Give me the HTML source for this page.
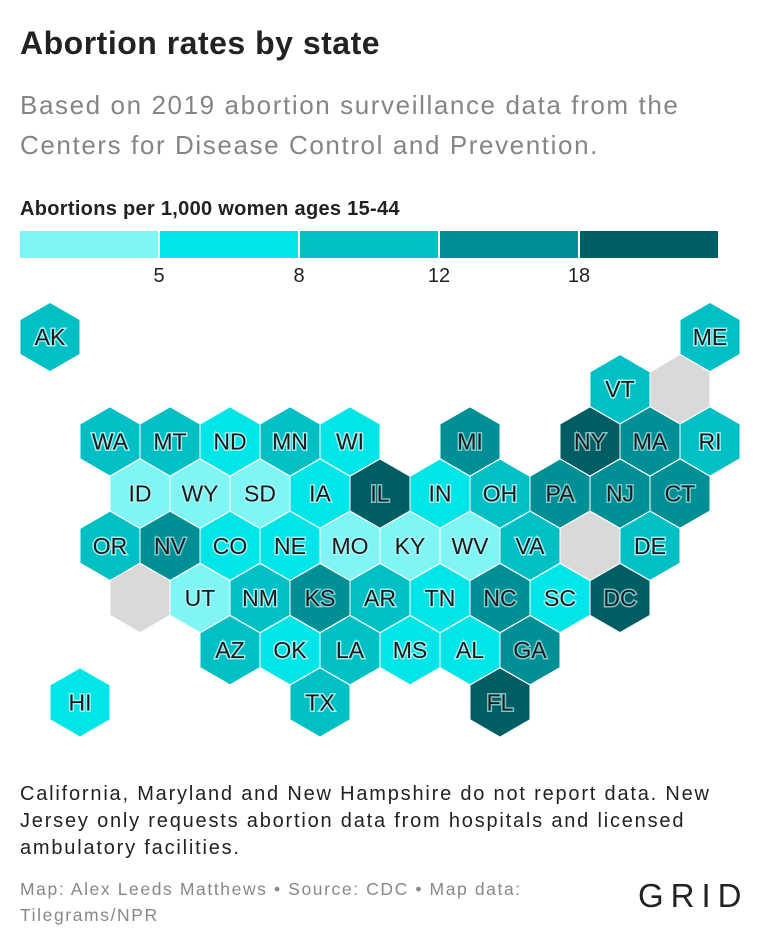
<!DOCTYPE html>
<html><head><meta charset="utf-8"><style>
body{margin:0;background:#fff;font-family:"Liberation Sans",sans-serif;}
#wrap{position:relative;width:760px;height:946px;overflow:hidden;}
.t{position:absolute;left:20px;margin:0;white-space:nowrap;}
</style></head><body>
<div id="wrap">
<h1 class="t" style="top:25px;font-size:32px;font-weight:bold;color:#222;letter-spacing:0.5px;">Abortion rates by state</h1>
<div class="t" style="top:85px;font-size:26px;line-height:40px;color:#858585;letter-spacing:1.6px;">Based on 2019 abortion surveillance data from the<br>Centers for Disease Control and Prevention.</div>
<div class="t" style="top:198px;font-size:20px;font-weight:bold;color:#222;letter-spacing:0.3px;">Abortions per 1,000 women ages 15-44</div>
<svg id="map" width="760" height="760" style="position:absolute;left:0;top:0"></svg>
<div class="t" style="top:781px;font-size:20px;line-height:27px;color:#222;letter-spacing:1.8px;">California, Maryland and New Hampshire do not report data. New<br>Jersey only requests abortion data from hospitals and licensed<br>ambulatory facilities.</div>
<div class="t" style="top:876px;font-size:17.5px;line-height:26px;color:#888;letter-spacing:1.6px;">Map: Alex Leeds Matthews • Source: CDC • Map data:<br>Tilegrams/NPR</div>
<div style="position:absolute;left:638px;top:877px;font-size:33px;letter-spacing:7px;color:#222;">GRID</div>
</div>
<script>
const states=["AK","ME","VT","WA","MT","ND","MN","WI","MI","NY","MA","RI","ID","WY","SD","IA","IL","IN","OH","PA","NJ","CT","OR","NV","CO","NE","MO","KY","WV","VA","DE","UT","NM","KS","AR","TN","NC","SC","DC","AZ","OK","LA","MS","AL","GA","HI","TX","FL"];
const rates=[10,10,10,10,10,6.5,10,6.5,14,22,14,10,3,3,3,6.5,22,6.5,10,14,14,14,10,14,6.5,6.5,3,3,3,10,10,3,10,14,10,6.5,14,6.5,22,10,6.5,10,6.5,6.5,14,6.5,10,22];
const cols=[0,11,9,1,2,3,4,5,7,9,10,11,1,2,3,4,5,6,7,8,9,10,1,2,3,4,5,6,7,8,10,2,3,4,5,6,7,8,9,3,4,5,6,7,8,0,4,7];
const rows=[0,0,1,2,2,2,2,2,2,2,2,2,3,3,3,3,3,3,3,3,3,3,4,4,4,4,4,4,4,4,4,5,5,5,5,5,5,5,5,6,6,6,6,6,6,7,7,7];
const noData=[[10,1],[9,4],[1,5]];
const breaks=[5,8,12,18];
const tickLabels=["5","8","12","18"];
const colors=["#80f5f5","#00e6e8","#00bfc5","#008f94","#005d63"];
const svg=document.getElementById('map');const NS="http://www.w3.org/2000/svg";
const R=34.6,W=60,H=52.2;
function hx(c,r){return 50+c*W+(r%2?30:0);}
function hy(r){return 337+r*H;}
function bin(v){let i=0;while(i<breaks.length&&v>=breaks[i])i++;return i;}
function hex(cx,cy,fill){const p=document.createElementNS(NS,'polygon');let pts=[];for(let k=0;k<6;k++){const a=Math.PI/180*(60*k-90);pts.push((cx+R*Math.cos(a)).toFixed(1)+','+(cy+R*Math.sin(a)).toFixed(1));}p.setAttribute('points',pts.join(' '));p.setAttribute('fill',fill);p.setAttribute('stroke','#fff');p.setAttribute('stroke-width','1');svg.appendChild(p);return p;}
for(let i=0;i<5;i++){const r=document.createElementNS(NS,'rect');r.setAttribute('x',20+i*140);r.setAttribute('y',231);r.setAttribute('width',138);r.setAttribute('height',27);r.setAttribute('fill',colors[i]);


svg.appendChild(r);}
tickLabels.forEach((t,i)=>{const e=document.createElementNS(NS,'text');e.setAttribute('x',159+i*140);e.setAttribute('y',282);e.setAttribute('text-anchor','middle');e.setAttribute('font-size','20');e.setAttribute('fill','#222');e.textContent=t;


svg.appendChild(e);});
noData.forEach(d=>{const p=hex(hx(d[0],d[1]),hy(d[1]),'#d9d9d9');

});
states.forEach((s,i)=>{const cx=hx(cols[i],rows[i]),cy=hy(rows[i]);const b=bin(rates[i]);const p=hex(cx,cy,colors[b]);


const t=document.createElementNS(NS,'text');t.setAttribute('x',cx);t.setAttribute('y',cy+8);t.setAttribute('text-anchor','middle');t.setAttribute('font-size','23');t.setAttribute('fill','#1a1a1a');t.setAttribute('stroke',b>=3?'rgba(150,220,225,0.8)':'rgba(170,245,245,0.9)');t.setAttribute('stroke-width','3');t.setAttribute('paint-order','stroke');t.textContent=s;


svg.appendChild(t);});
</script>
</body></html>
